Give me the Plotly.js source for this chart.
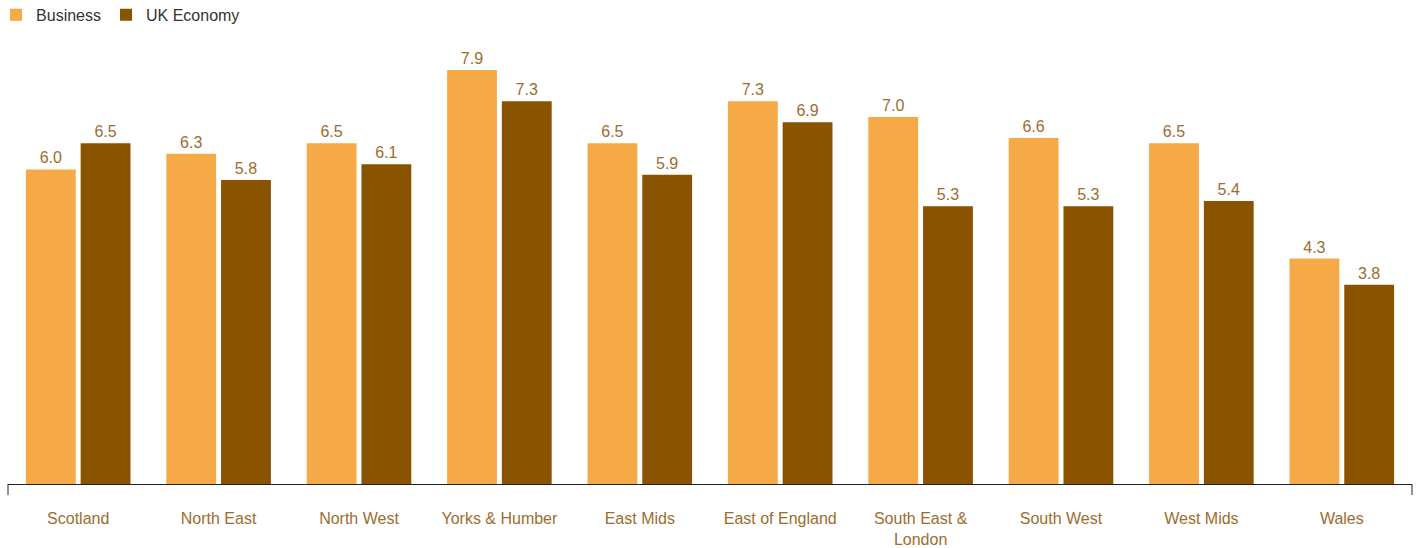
<!DOCTYPE html>
<html>
<head>
<meta charset="utf-8">
<script src="https://cdn.plot.ly/plotly-3.0.1.min.js"></script>
<style>html,body{margin:0;padding:0;background:#fff;}#chart{width:1418px;height:548px;}</style>
</head>
<body>
<div id="chart"></div>
<script>
const categories = ["Scotland", "North East", "North West", "Yorks & Humber", "East Mids", "East of England", "South East &<br>London", "South West", "West Mids", "Wales"];
const business = [6.0, 6.3, 6.5, 7.9, 6.5, 7.3, 7.0, 6.6, 6.5, 4.3];
const ukEconomy = [6.5, 5.8, 6.1, 7.3, 5.9, 6.9, 5.3, 5.3, 5.4, 3.8];

const labelColor = '#9c6d2f';
const fontFam = '"Liberation Sans", Arial, Helvetica, sans-serif';

const traces = [
  {
    type: 'bar', name: 'Business', x: categories, y: business,
    marker: {color: '#f6a947'},
    text: business.map(v => v.toFixed(1)), textposition: 'outside',
    textfont: {color: labelColor, size: 16, family: fontFam},
    cliponaxis: false, hoverinfo: 'x+y'
  },
  {
    type: 'bar', name: 'UK Economy', x: categories, y: ukEconomy,
    marker: {color: '#8a5300'},
    text: ukEconomy.map(v => v.toFixed(1)), textposition: 'outside',
    textfont: {color: labelColor, size: 16, family: fontFam},
    cliponaxis: false, hoverinfo: 'x+y'
  }
];

const layout = {
  width: 1418, height: 548,
  margin: {l: 8, r: 6, t: 40, b: 64, autoexpand: false},
  paper_bgcolor: '#fff', plot_bgcolor: '#fff',
  font: {family: fontFam, size: 16, color: '#333'},
  barmode: 'group', bargap: 0.22, bargroupgap: 0.09,
  showlegend: true,
  legend: {orientation: 'h', x: -0.0085, y: 1.095, xanchor: 'left', yanchor: 'top',
           font: {size: 16, color: '#333', family: fontFam}, itemwidth: 30, traceorder: 'normal'},
  xaxis: {
    type: 'category', showgrid: false, zeroline: false,
    showline: true, linecolor: '#222', linewidth: 1,
    ticks: 'outside', ticklen: 20, tickcolor: 'rgba(0,0,0,0)',
    tickfont: {size: 16, color: labelColor, family: fontFam},
    fixedrange: true
  },
  yaxis: {range: [0, 8.47], visible: false, showgrid: false, zeroline: false, fixedrange: true},
  shapes: [
    {type: 'line', xref: 'paper', yref: 'paper', x0: 0, x1: 0, y0: 0, y1: -0.025, line: {color: '#222', width: 1}},
    {type: 'line', xref: 'paper', yref: 'paper', x0: 1, x1: 1, y0: 0, y1: -0.025, line: {color: '#222', width: 1}}
  ]
};

Plotly.newPlot('chart', traces, layout, {displayModeBar: false, staticPlot: true});
</script>
</body>
</html>
